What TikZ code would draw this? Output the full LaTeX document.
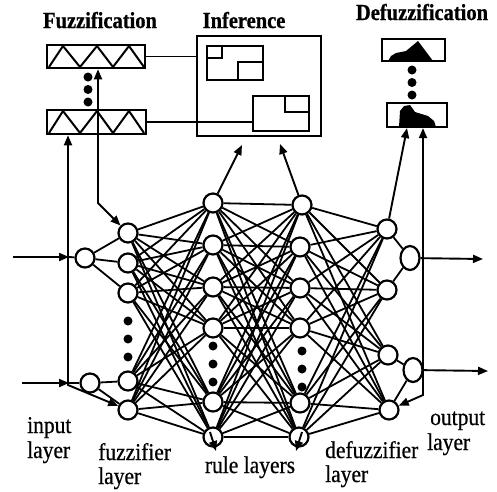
\documentclass[tikz,border=0pt]{standalone}
\usepackage{fontspec}
\setmainfont{Liberation Serif}
\newfontfamily\labfont[FakeBold=0.6]{Liberation Serif}
\newfontfamily\headfont[FakeBold=0.8]{Liberation Serif Bold}
\usetikzlibrary{arrows.meta,shapes.geometric,calc}
\newcommand{\stretchtxt}[1]{\scalebox{1}[1.12]{#1}}
\begin{document}
\begin{tikzpicture}[x=1pt,y=-1pt,
  neuron/.style={circle,draw,fill=white,line width=2.2pt,minimum size=19pt,inner sep=0pt},
  outn/.style={ellipse,draw,fill=white,line width=2.2pt,minimum width=19pt,minimum height=24pt,inner sep=0pt},
  link/.style={line width=1.8pt},
  arr/.style={line width=1.9pt,-{Triangle[length=10pt,width=8pt]}},
  darr/.style={line width=1.9pt,{Triangle[length=10pt,width=8pt]}-{Triangle[length=10pt,width=8pt]}},
  bigdot/.style={circle,fill=black,minimum size=9pt,inner sep=0pt},
  framebox/.style={draw,line width=2.6pt,inner sep=0pt},
  thinbox/.style={draw,line width=2.2pt,inner sep=0pt},
  head/.style={font=\fontsize{20.5}{24}\headfont,inner sep=0pt},
  lab/.style={font=\fontsize{21.5}{25}\labfont,inner sep=0pt}
]
\useasboundingbox[fill=white] (0,0) rectangle (497,491);

% headings
\node[head,anchor=base] (hf) at (100,28) {\stretchtxt{Fuzzification}};
\node[head,anchor=base] (hi) at (244,28) {\stretchtxt{Inference}};
\node[head,anchor=base] (hd) at (422,20) {\stretchtxt{Defuzzification}};

% fuzzification boxes
\node[framebox,minimum width=98pt,minimum height=23pt] (fz1) at (96,56.5) {};
\node[framebox,minimum width=99pt,minimum height=24pt] (fz2) at (96.5,122) {};
\draw[line width=2pt,line join=miter] (49,67) -- (63,46) -- (80,67) -- (97,46) -- (113,67) -- (129,46) -- (144,67);
\draw[line width=2pt,line join=miter] (49,133) -- (63,111) -- (80,133) -- (97,111) -- (113,133) -- (129,111) -- (144,133);
\node[bigdot] (fd1) at (88,77) {};
\node[bigdot] (fd2) at (88,89.5) {};
\node[bigdot] (fd3) at (88,102) {};

% inference box
\node[thinbox,minimum width=124pt,minimum height=100pt] (inf) at (259,86) {};
\draw[line width=2.2pt] (207,46) rectangle (263,80);
\draw[line width=2.2pt] (207,46) rectangle (222,58);
\draw[line width=2.2pt] (238,62) rectangle (263,80);
\node[thinbox,minimum width=56pt,minimum height=35pt] (ir2) at (281,113.5) {};
\draw[line width=2.2pt] (285,96) rectangle (309,112);

% defuzzification boxes
\node[thinbox,minimum width=63pt,minimum height=22pt] (dz1) at (413.5,50) {};
\node[thinbox,minimum width=60pt,minimum height=24pt] (dz2) at (417,115) {};
\fill (388,61) -- (391,56) -- (396,53) -- (406,51) -- (418,41) -- (433,61) -- cycle;
\fill (399,127) -- (400,111) -- (404,106) -- (410,105) -- (415,112) -- (428,116) -- (434,121) -- (436,127) -- cycle;
\node[bigdot] (dd1) at (412,70) {};
\node[bigdot] (dd2) at (412,82.5) {};
\node[bigdot] (dd3) at (412,95) {};

% input layer
\node[neuron] (i1) at (85,258) {};
\node[neuron] (i2) at (90,383) {};
% fuzzifier layer
\node[neuron] (f1) at (128,233) {};
\node[neuron] (f2) at (128,263) {};
\node[neuron] (f3) at (128,293) {};
\node[neuron] (f4) at (128,381) {};
\node[neuron] (f5) at (128,410) {};
\node[bigdot] (fdot1) at (128,321) {};
\node[bigdot] (fdot2) at (128,339) {};
\node[bigdot] (fdot3) at (128,357) {};
% rule layer 1
\node[neuron] (a1) at (213,203) {};
\node[neuron] (a2) at (213,245) {};
\node[neuron] (a3) at (213,287) {};
\node[neuron] (a4) at (213,328) {};
\node[neuron] (a5) at (213,402) {};
\node[neuron] (a6) at (213,437) {};
\node[bigdot] (adot1) at (213,346) {};
\node[bigdot] (adot2) at (213,364) {};
\node[bigdot] (adot3) at (213,382) {};
% rule layer 2
\node[neuron] (b1) at (302,205) {};
\node[neuron] (b2) at (300,247) {};
\node[neuron] (b3) at (300,288) {};
\node[neuron] (b4) at (300,328) {};
\node[neuron] (b5) at (300,403) {};
\node[neuron] (b6) at (299,437) {};
\node[bigdot] (bdot1) at (302,351) {};
\node[bigdot] (bdot2) at (302,369) {};
\node[bigdot] (bdot3) at (302,387) {};
% defuzzifier layer
\node[neuron] (d1) at (387,229) {};
\node[neuron] (d2) at (387,290) {};
\node[neuron] (d3) at (388,355) {};
\node[neuron] (d4) at (389,410) {};
% output layer
\node[outn] (o1) at (410,258) {};
\node[outn] (o2) at (413,370) {};

% connections
\foreach \i in {1,...,5} \foreach \j in {1,...,6} \draw[link] (f\i) -- (a\j);
\foreach \i in {1,...,6} \foreach \j in {1,...,6} \draw[link] (a\i) -- (b\j);
\foreach \i in {1,...,6} \foreach \j in {1,...,4} \draw[link] (b\i) -- (d\j);
\draw[link] (i1) -- (f1);
\draw[link] (i1) -- (f2);
\draw[link] (i1) -- (f3);
\draw[link] (i2) -- (f4);
\draw[link] (i2) -- (f5);
\draw[link] (d1) -- (o1);
\draw[link] (d2) -- (o1);
\draw[link] (d3) -- (o2);
\draw[link] (d4) -- (o2);

% fuzzification links
\draw[link] (fz1.east) -- (inf.west |- fz1.east);
\draw[link] (fz2.east) -- (ir2.west |- fz2.east);
\coordinate (u1) at (98,203);
\draw[darr] (fz1.south -| u1) -- (u1) -- (f1);
\coordinate (u2) at (68,385);
\draw[darr] (fz2.south -| u2) -- (u2) -- (f5);

% inputs
\coordinate (s1) at (13,257);
\coordinate (v1) at (69,257);
\draw[arr] (s1) -- (v1);
\draw[link] (v1) -- (i1);
\coordinate (s2) at (22,383);
\coordinate (v2) at (69,383);
\draw[arr] (s2) -- (v2);
\draw[link] (v2) -- (i2);

% inference arrows
\coordinate (t1) at (242,145);
\coordinate (t2) at (280,144);
\draw[arr] (a1) -- (t1);
\draw[arr] (b1) -- (t2);

% defuzzification arrows
\coordinate (w1) at (407,200);
\draw[arr] (d1) -- (dz2.south -| w1);
\coordinate (w2) at (423,395);
\draw[darr] (dz2.south -| w2) -- (w2) -- (d4);

% outputs
\coordinate (e1) at (483,259);
\coordinate (e2) at (488,371);
\draw[arr] (o1) -- (e1);
\draw[arr] (o2) -- (e2);

% arrows at bottom rule nodes
\draw[arr] ($(a6)+(-3,-5)$) -- ($(a6)+(3,14)$);
\draw[arr] ($(b6)+(3,-5)$) -- ($(b6)+(-3,14)$);

% labels
\node[lab,anchor=base west] (l1a) at (27,433) {\stretchtxt{input}};
\node[lab,anchor=base west] (l1b) at (27,458) {\stretchtxt{layer}};
\node[lab,anchor=base west] (l2a) at (98,460) {\stretchtxt{fuzzifier}};
\node[lab,anchor=base west] (l2b) at (98,484) {\stretchtxt{layer}};
\node[lab,anchor=base] (l3) at (250,473) {\stretchtxt{rule layers}};
\node[lab,anchor=base west] (l4a) at (325,458) {\stretchtxt{defuzzifier}};
\node[lab,anchor=base west] (l4b) at (325,482) {\stretchtxt{layer}};
\node[lab,anchor=base west] (l5a) at (430,425) {\stretchtxt{output}};
\node[lab,anchor=base west] (l5b) at (427,450) {\stretchtxt{layer}};
\end{tikzpicture}
\end{document}
